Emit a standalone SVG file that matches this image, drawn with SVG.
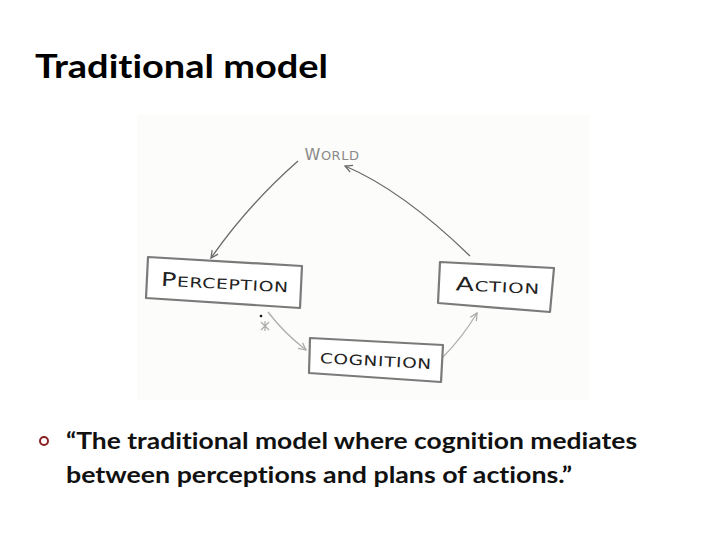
<svg xmlns="http://www.w3.org/2000/svg" width="720" height="540" viewBox="0 0 720 540">
<defs>
<style>
.title{font-family:Lato,"Open Sans","Liberation Sans",sans-serif;font-weight:700;font-size:32px;fill:#000;font-variant-ligatures:none}
.body{font-family:Lato,"Open Sans","Liberation Sans",sans-serif;font-weight:700;font-size:23px;fill:#111;font-variant-ligatures:none}
.box{fill:#fff;stroke:#7a7a7a;stroke-width:2.2;stroke-linejoin:round}
.lbl{font-family:"DejaVu Sans","Liberation Sans",sans-serif;fill:#222;font-size:14px;letter-spacing:0.5px}
.big{font-size:19px}
.conn{fill:none;stroke:#6a6a6a;stroke-width:1.3}
.light{stroke:#b0b0b0}
</style>
<marker id="ah" viewBox="0 0 10 10" refX="9" refY="5" markerWidth="9" markerHeight="9" markerUnits="userSpaceOnUse" orient="auto">
<path d="M1,1 L9,5 L1,9" fill="none" stroke="#6a6a6a" stroke-width="1.4"/>
</marker>
<marker id="ahl" viewBox="0 0 10 10" refX="9" refY="5" markerWidth="9" markerHeight="9" markerUnits="userSpaceOnUse" orient="auto">
<path d="M1,1 L9,5 L1,9" fill="none" stroke="#a8a8a8" stroke-width="1.4"/>
</marker>
</defs>
<rect width="720" height="540" fill="#fff"/>
<rect x="137" y="115" width="453" height="285" fill="#fcfcfa"/>
<text class="title" x="35" y="78" textLength="293" lengthAdjust="spacingAndGlyphs">Traditional model</text>

<g id="connectors">
<path class="conn" d="M298,161 Q248,205 211,258" marker-end="url(#ah)"/>
<path class="conn" d="M470,256 Q402,190 345,166" marker-end="url(#ah)"/>
<path class="conn light" d="M268,312 Q283,332 306,350" marker-end="url(#ahl)"/>
<path class="conn light" d="M443,357 Q462,338 477,313" marker-end="url(#ahl)"/>
</g>

<g id="world">
<text x="332" y="160" text-anchor="middle" style="font-family:'DejaVu Sans','Liberation Sans',sans-serif;font-size:13px;fill:#8a8a8a;letter-spacing:0.5px"><tspan style="font-size:16px">W</tspan>ORLD</text>
</g>

<g id="perception">
<polygon class="box" points="148,257 302,266 300,308 146,298"/>
<text class="lbl" x="225" y="289" text-anchor="middle" transform="rotate(3 225 282)" textLength="128" lengthAdjust="spacingAndGlyphs"><tspan class="big">P</tspan>ERCEPTION</text>
</g>

<g id="action">
<polygon class="box" points="440,262 554,268 550,312 438,303"/>
<text class="lbl" x="498" y="292" text-anchor="middle" transform="rotate(2.5 498 282)" textLength="84" lengthAdjust="spacingAndGlyphs"><tspan class="big">A</tspan>CTION</text>
</g>

<g id="cognition">
<polygon class="box" points="310,338 443,345 441,382 309,373"/>
<text class="lbl" x="376" y="366" text-anchor="middle" transform="rotate(3 376 359)" textLength="112" lengthAdjust="spacingAndGlyphs">COGNITION</text>
</g>

<circle cx="261" cy="316" r="1.3" fill="#111"/>
<path d="M261,322 L269,330 M269,322 L261,330 M265,321 L265,331" stroke="#aaa" stroke-width="1.2" fill="none"/>

<g id="bullet">
<circle cx="44" cy="441" r="4" fill="none" stroke="#8b2020" stroke-width="2"/>
<text class="body" x="66" y="449" textLength="571" lengthAdjust="spacingAndGlyphs">“The traditional model where cognition mediates</text>
<text class="body" x="66" y="483" textLength="506" lengthAdjust="spacingAndGlyphs">between perceptions and plans of actions.”</text>
</g>
</svg>
